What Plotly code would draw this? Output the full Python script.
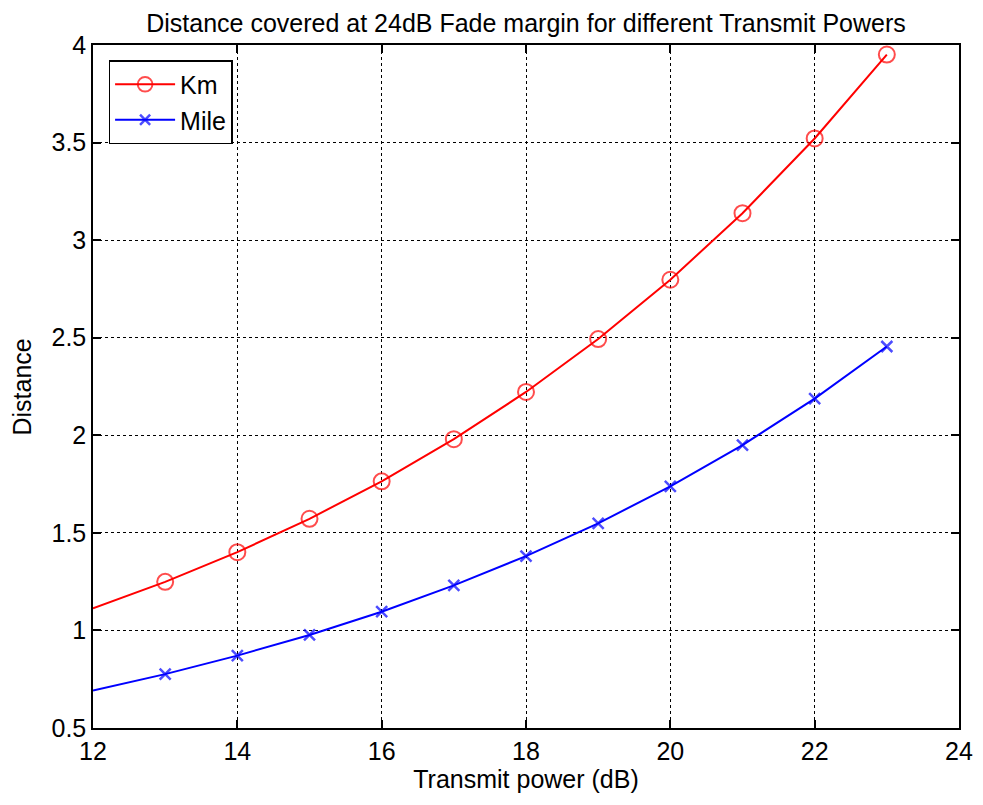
import plotly.graph_objects as go

power_db = [12, 13, 14, 15, 16, 17, 18, 19, 20, 21, 22, 23]
distance_km = [1.113, 1.249, 1.401, 1.572, 1.764, 1.980, 2.222, 2.493, 2.797, 3.138, 3.521, 3.951]
distance_mile = [0.692, 0.776, 0.871, 0.977, 1.096, 1.231, 1.381, 1.549, 1.738, 1.950, 2.188, 2.455]
x_ticks = [12, 14, 16, 18, 20, 22, 24]
y_ticks = [0.5, 1, 1.5, 2, 2.5, 3, 3.5, 4]

FONT = "Liberation Sans, Arial, Helvetica, sans-serif"
FS = 25

# first sample lies on the axis edge and shows no marker in the reference
km_sizes = [0] + [16] * (len(power_db) - 1)
mile_sizes = [0] + [11] * (len(power_db) - 1)

fig = go.Figure()
fig.add_trace(go.Scatter(
    x=power_db, y=distance_km, name="Km", mode="lines+markers",
    line=dict(color="#FF0000", width=2),
    marker=dict(symbol="circle-open", size=km_sizes, color="#FF0000", line=dict(width=2, color="#FF0000")),
))
fig.add_trace(go.Scatter(
    x=power_db, y=distance_mile, name="Mile", mode="lines+markers",
    line=dict(color="#0000FF", width=2),
    marker=dict(symbol="x-thin-open", size=mile_sizes, color="#0000FF", line=dict(width=2.5, color="#0000FF")),
))

axis_common = dict(
    showline=True, linecolor="black", linewidth=1.5, mirror="allticks",
    ticks="inside", ticklen=8, tickwidth=1.5, tickcolor="black",
    showgrid=True, gridcolor="black", gridwidth=1, griddash="dot",
    zeroline=False, automargin=False, ticklabeloverflow="allow",
    tickfont=dict(family=FONT, size=FS, color="black"),
)

W, H = 967, 789
fig.update_layout(
    width=W, height=H,
    margin=dict(l=85, r=16, t=37, b=69, autoexpand=False),
    paper_bgcolor="white", plot_bgcolor="white",
    font=dict(family=FONT, size=FS, color="black"),
    title=dict(text="Distance covered at 24dB Fade margin for different Transmit Powers",
               x=0.5, xanchor="center", xref="paper", y=1 - 6 / H, yanchor="top",
               font=dict(family=FONT, size=FS, color="black")),
    xaxis=dict(range=[12, 24], tickvals=x_ticks, ticktext=[str(v) for v in x_ticks],
               title=dict(text="Transmit power (dB)", standoff=6,
                          font=dict(family=FONT, size=FS, color="black")),
               **axis_common),
    yaxis=dict(range=[0.5, 4], tickvals=y_ticks, ticktext=[f"{v:g}" for v in y_ticks],
               **axis_common),
    legend=dict(x=0.018, y=0.978, xanchor="left", yanchor="top",
                bgcolor="white", bordercolor="black", borderwidth=1.5,
                font=dict(family=FONT, size=FS, color="black"),
                itemwidth=60, tracegroupgap=6),
    showlegend=True,
    annotations=[dict(text="Distance", textangle=-90, xref="paper", yref="paper",
                      x=-0.082, y=0.5, xanchor="center", yanchor="middle",
                      showarrow=False, font=dict(family=FONT, size=FS, color="black"))],
)

fig.write_html("out.html")
